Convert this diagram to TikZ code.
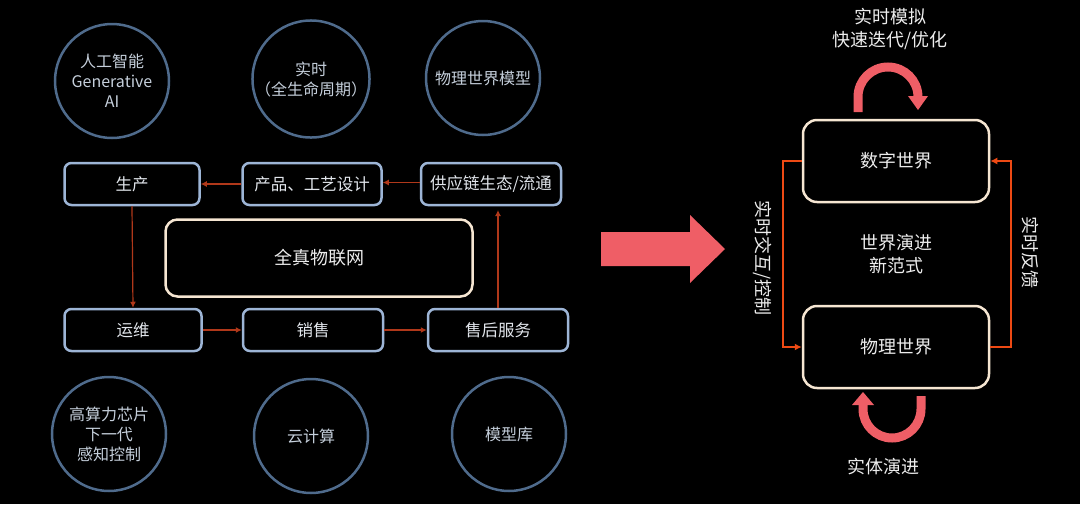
\documentclass[tikz,border=0pt]{standalone}
\usepackage{fontspec}
\setmainfont{Noto Sans CJK SC}
\usetikzlibrary{arrows.meta}
\definecolor{circstroke}{HTML}{4F6B8C}
\definecolor{circtext}{HTML}{C5CFDB}
\definecolor{boxstroke}{HTML}{9DB5D6}
\definecolor{boxtext}{HTML}{E2E6EC}
\definecolor{cream}{HTML}{F6E6D2}
\definecolor{darkarrow}{HTML}{B0381A}
\definecolor{orangearrow}{HTML}{EE4A14}
\definecolor{coral}{HTML}{EF5E66}
\definecolor{whitetext}{HTML}{EDEDED}
\tikzset{
  circ/.style={circle, draw=circstroke, line width=2.5pt, minimum size=114pt, inner sep=0pt,
    text=circtext, font=\fontsize{16}{20}\selectfont, align=center},
  procbox/.style={draw=boxstroke, line width=2.5pt, rounded corners=7pt, fill=black,
    minimum height=42pt, text=boxtext, font=\fontsize{16.5}{20}\selectfont, inner sep=0pt},
  worldbox/.style={draw=cream, line width=2.5pt, rounded corners=14pt, fill=black,
    minimum width=186pt, minimum height=82pt, text=whitetext, font=\fontsize{18}{22}\selectfont},
  flow/.style={draw=darkarrow, line width=1.2pt, -{Latex[length=6pt,width=6pt]}},
  link/.style={draw=orangearrow, line width=1.4pt, -{Latex[length=7pt,width=7pt]}},
  lbl/.style={text=whitetext, font=\fontsize{18}{23}\selectfont, align=center, inner sep=0pt},
}
\begin{document}
\begin{tikzpicture}[x=1pt,y=-1pt]
\fill[black] (0,0) rectangle (1080,504);
\useasboundingbox (0,0) rectangle (1080,504);

% circles top
\node[circ] (c1) at (112,81) {人工智能\\Generative\\AI};
\node[circ] (c2) at (311,79) {实时\\（全生命周期）};
\node[circ] (c3) at (483,78) {物理世界模型};
% circles bottom
\node[circ] (c4) at (109,434) {高算力芯片\\下一代\\感知控制};
\node[circ] (c5) at (311,436) {云计算};
\node[circ] (c6) at (509,434) {模型库};

% process boxes
\node[procbox, minimum width=135pt] (b1) at (132,184) {生产};
\node[procbox, minimum width=139pt] (b2) at (312,184) {产品、工艺设计};
\node[procbox, minimum width=140pt] (b3) at (491,184) {供应链生态/流通};
\node[procbox, minimum width=137pt] (b4) at (133,330) {运维};
\node[procbox, minimum width=140pt] (b5) at (313,330) {销售};
\node[procbox, minimum width=140pt] (b6) at (498,330) {售后服务};
\node[draw=cream, line width=2.5pt, rounded corners=12pt, minimum width=307pt, minimum height=77pt,
  text=whitetext, font=\fontsize{18}{22}\selectfont] (iot) at (319,258) {全真物联网};

% flow arrows
\draw[flow] (b2.west) -- (b1.east);
\draw[flow] ([yshift=1.5pt]b3.west) -- ([yshift=1.5pt]b2.east);
\draw[flow] (b1.south) -- (b4.north);
\draw[flow] (b4.east) -- (b5.west);
\draw[flow] (b5.east) -- (b6.west);
\coordinate (b3in) at (498,210);
\draw[flow] (b6.north) -- (b3in);

% big arrow
\fill[coral] (601,232) -- (690,232) -- (690,215) -- (725,249) -- (690,283) -- (690,266) -- (601,266) -- cycle;

% right side
\node[worldbox] (dw) at (896,161) {数字世界};
\node[worldbox] (pw) at (896,347) {物理世界};
\draw[link] (dw.west) -- (783,161) -- (783,347) -- (pw.west);
\draw[link] (pw.east) -- (1011,347) -- (1011,161) -- (dw.east);
\node[lbl] (center) at (896,254) {世界演进\\新范式};
\node[lbl, rotate=-90] (lblL) at (763,258) {实时交互/控制};
\node[lbl, rotate=-90] (lblR) at (1030,252) {实时反馈};
\node[lbl] (top) at (890,29) {实时模拟\\快速迭代/优化};
\node[lbl] (bot) at (883,467) {实体演进};

% curved arrows
\draw[coral, line width=9pt] (858,112) -- (858,97) arc[start angle=180, end angle=360, radius=30];
\fill[coral] (908,96) -- (928,96) -- (918,110) -- cycle;
\draw[coral, line width=9pt] (921,396) -- (921,409) arc[start angle=0, end angle=180, radius=29] -- (863,405);
\fill[coral] (852,405) -- (874,405) -- (863,392) -- cycle;
\end{tikzpicture}
\end{document}
